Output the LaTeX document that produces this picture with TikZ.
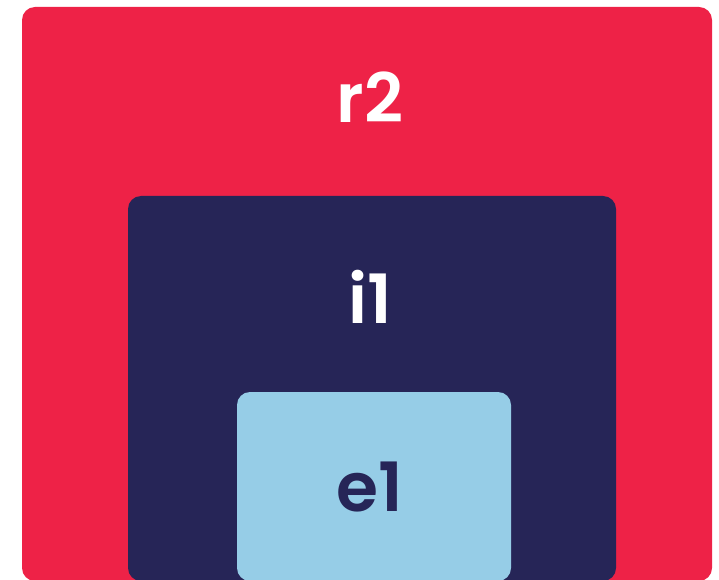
\documentclass[tikz,border=0pt]{standalone}
\usepackage{fontspec}
\setmainfont{Poppins}[BoldFont={* SemiBold}]
\usepackage{tikz}
\usepackage{xcolor}
\definecolor{boxred}{HTML}{EE2247}
\definecolor{boxnavy}{HTML}{262557}
\definecolor{boxsky}{HTML}{96CDE7}
\tikzset{
  layer/.style={rounded corners=13pt, inner sep=0pt},
  tag/.style={font=\fontsize{68}{68}\selectfont\bfseries}
}
\begin{document}
\begin{tikzpicture}[x=1pt, y=1pt]
\useasboundingbox (0,0) rectangle (719,579);
\fill[layer, boxred] (22,-2) rectangle (712,572);
\fill[layer, boxnavy] (128,-2) rectangle (616,383);
\fill[layer, boxsky] (237,-2) rectangle (511,187);
\node[tag, white] (r2) at (370,482) {r2};
\node[tag, white] (i1) at (370,282) {i1};
\node[tag, boxnavy] (e1) at (370,92) {e1};
\end{tikzpicture}
\end{document}
